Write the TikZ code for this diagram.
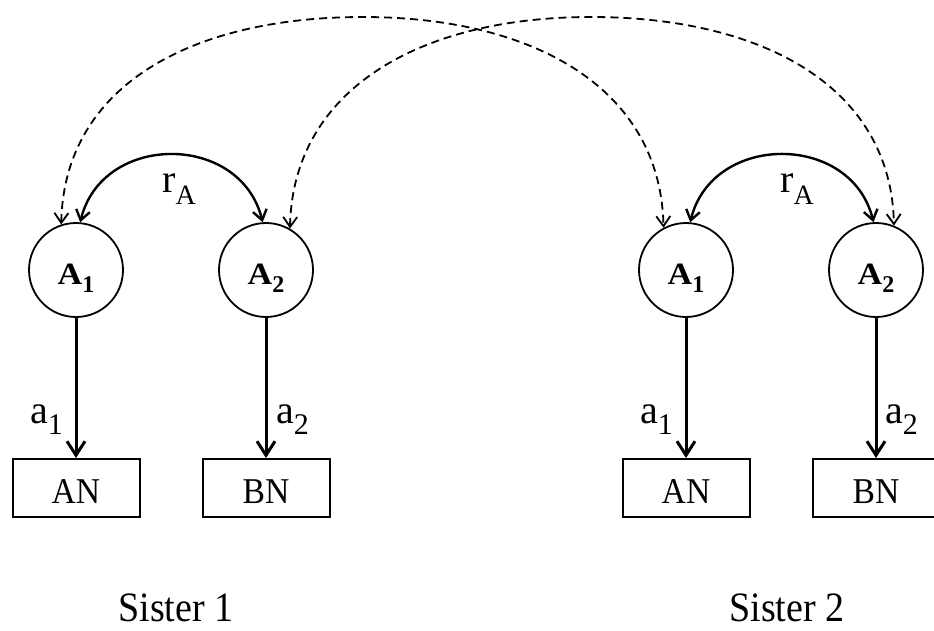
\documentclass[tikz,border=0pt]{standalone}
\usepackage{fontspec}
\setmainfont{Liberation Serif}
\usetikzlibrary{arrows.meta}
\newcommand{\latlbl}[1]{\raisebox{-14pt}[0pt][0pt]{\fontsize{31}{31}\selectfont\bfseries\scalebox{1.1}[1]{A}\raisebox{-8pt}{\fontsize{24}{24}\selectfont #1}}}
\newcommand{\boxlbl}[1]{\raisebox{-15pt}[0pt][0pt]{\scalebox{1.02}[1.1]{#1}}}
\begin{document}
\begin{tikzpicture}[x=1pt,y=-1pt,
  latent/.style={circle,draw,line width=1.8pt,minimum size=94pt,inner sep=0pt},
  manifest/.style={rectangle,draw,line width=2pt,minimum width=127pt,minimum height=58pt,inner sep=0pt,font=\fontsize{33}{33}\selectfont},
  load/.style={line width=3pt,-{Straight Barb[length=14pt,width=18pt]}},
  corr/.style={line width=2.4pt,{Straight Barb[length=10pt,width=14pt]}-{Straight Barb[length=10pt,width=14pt]}},
  twin/.style={line width=1.8pt,dash pattern=on 8pt off 5pt,{Straight Barb[length=10pt,width=14pt,line width=1.8pt]}-{Straight Barb[length=10pt,width=14pt,line width=1.8pt]}},
  lbl/.style={inner sep=0pt,font=\fontsize{40}{40}\selectfont},
  sister/.style={inner sep=0pt,anchor=base,font=\fontsize{38}{38}\selectfont},
]
\useasboundingbox (0,0) rectangle (934,630);

% Sister 1
\node[latent] (L1) at (76,270) {\latlbl{1}};
\node[latent] (L2) at (266,270) {\latlbl{2}};
\node[manifest] (M1) at (76,488) {\boxlbl{AN}};
\node[manifest] (M2) at (266,488) {\boxlbl{BN}};
% Sister 2
\node[latent] (R1) at (686,270) {\latlbl{1}};
\node[latent] (R2) at (876,270) {\latlbl{2}};
\node[manifest] (N1) at (686,488) {\boxlbl{AN}};
\node[manifest] (N2) at (876,488) {\boxlbl{BN}};

% loadings
\draw[load] (L1) -- (M1);
\draw[load] (L2) -- (M2);
\draw[load] (R1) -- (N1);
\draw[load] (R2) -- (N2);
\node[lbl,anchor=base east] (la1) at (63,423) {a\raisebox{-11pt}{\fontsize{30}{30}\selectfont 1}};
\node[lbl,anchor=base west] (la2) at (276,423) {a\raisebox{-11pt}{\fontsize{30}{30}\selectfont 2}};
\node[lbl,anchor=base east] (ra1) at (673,423) {a\raisebox{-11pt}{\fontsize{30}{30}\selectfont 1}};
\node[lbl,anchor=base west] (ra2) at (885,423) {a\raisebox{-11pt}{\fontsize{30}{30}\selectfont 2}};

% within-sister correlations
\draw[corr] (L1.85) .. controls +(22,-90) and +(-22,-90) .. (L2.94);
\draw[corr] (R1.85) .. controls +(22,-90) and +(-22,-90) .. (R2.93);
\node[lbl,anchor=base] (lr) at (179,192) {r\raisebox{-12pt}{\fontsize{28}{28}\selectfont A}};
\node[lbl,anchor=base] (rr) at (797,192) {r\raisebox{-12pt}{\fontsize{28}{28}\selectfont A}};

% cross-sister correlations
\coordinate (p1) at (363,17);
\coordinate (p2) at (591,17);
\draw[twin] (L1.108) .. controls +(3,-140) and +(-170,0) .. (p1) .. controls +(170,0) and +(-3,-140) .. (R1.118);
\draw[twin] (L2.60) .. controls +(3,-140) and +(-170,0) .. (p2) .. controls +(170,0) and +(-3,-140) .. (R2.68);

% labels
\node[sister] (s1) at (176,621) {\scalebox{1}[1.1]{Sister 1}};
\node[sister] (s2) at (787,621) {\scalebox{1}[1.1]{Sister 2}};
\end{tikzpicture}
\end{document}
